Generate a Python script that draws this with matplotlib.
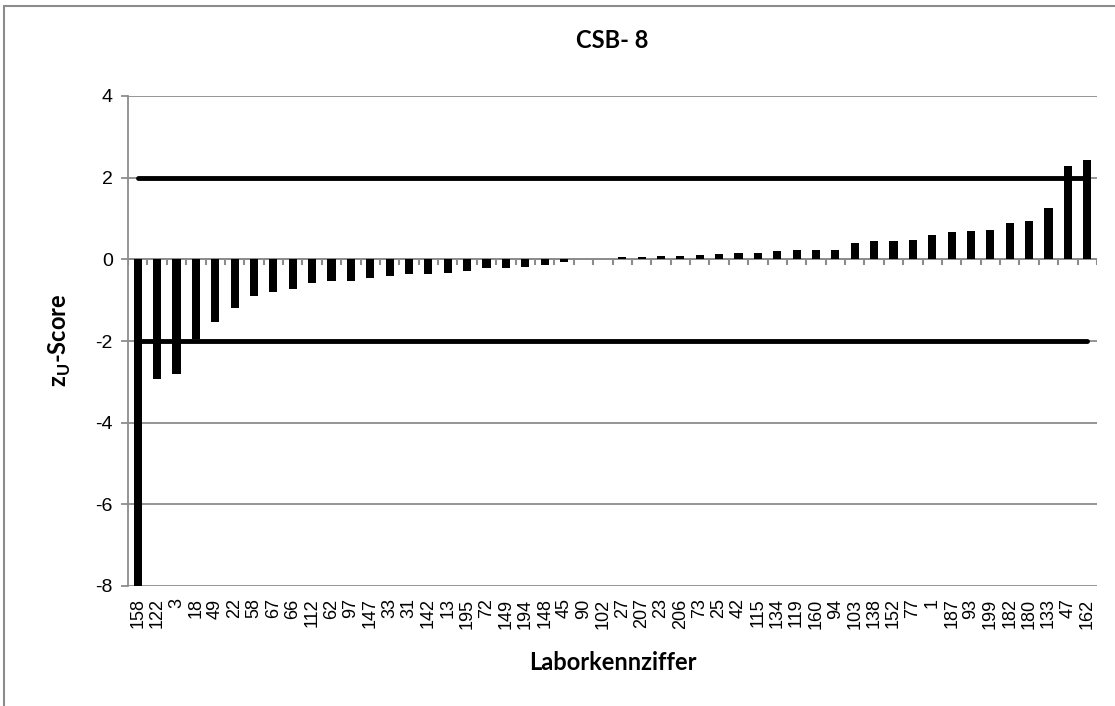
import numpy as np
import matplotlib
matplotlib.use("Agg")
import matplotlib.pyplot as plt
from matplotlib.patches import Rectangle

# Laboratory codes (sorted by z_U score) and their scores
labs = ['158', '122', '3', '18', '49', '22', '58', '67', '66', '112',
        '62', '97', '147', '33', '31', '142', '13', '195', '72', '149',
        '194', '148', '45', '90', '102', '27', '207', '23', '206', '73',
        '25', '42', '115', '134', '119', '160', '94', '103', '138', '152',
        '77', '1', '187', '93', '199', '182', '180', '133', '47', '162']
scores = [-8.0, -2.92, -2.81, -1.95, -1.54, -1.20, -0.89, -0.80, -0.73, -0.59,
          -0.54, -0.54, -0.45, -0.42, -0.36, -0.36, -0.33, -0.28, -0.22, -0.22,
          -0.18, -0.15, -0.07, 0.01, 0.02, 0.05, 0.05, 0.07, 0.07, 0.11,
          0.13, 0.16, 0.16, 0.21, 0.23, 0.23, 0.24, 0.39, 0.45, 0.45,
          0.48, 0.60, 0.67, 0.69, 0.72, 0.90, 0.95, 1.25, 2.29, 2.44]
limit_upper = 2
limit_lower = -2

grid_col = '#8c8c8c'
plt.rcParams['axes.unicode_minus'] = False
plt.rcParams['mathtext.fontset'] = 'custom'
plt.rcParams['mathtext.rm'] = 'Lato'
plt.rcParams['mathtext.bf'] = 'Lato:bold'

fig = plt.figure(figsize=(11.15, 7.06), dpi=100)
ax = fig.add_axes([128 / 1115, 1 - 586 / 706, (1097 - 128) / 1115, (586 - 96) / 706])

x = np.arange(len(labs))
ax.bar(x, scores, width=0.42, color='black', zorder=3)

# limit lines from first to last category
ax.plot([x[0], x[-1]], [limit_upper, limit_upper], color='black', lw=3.5,
        solid_capstyle='round', zorder=4)
ax.plot([x[0], x[-1]], [limit_lower, limit_lower], color='black', lw=3.5,
        solid_capstyle='round', zorder=4)

ymin, ymax = -8, 4
ax.set_ylim(ymin, ymax)
ax.set_xlim(-0.5, len(labs) - 0.5)
ax.set_yticks(np.arange(-8, 5, 2))
ax.yaxis.grid(True, color=grid_col, lw=1.3)
ax.set_axisbelow(True)

ax.set_xticks(x)
ax.set_xticklabels(labs, rotation=90, fontsize=13, family='Liberation Sans')
ax.tick_params(axis='x', length=0, pad=9)
ax.tick_params(axis='y', direction='out', length=5, color=grid_col,
               width=1.3, labelsize=14, pad=6)
for lab in ax.get_yticklabels():
    lab.set_family('Liberation Sans')

for side in ['top', 'right', 'bottom']:
    ax.spines[side].set_visible(False)
ax.spines['left'].set_color(grid_col)
ax.spines['left'].set_linewidth(1.3)

# category axis at zero: small tick marks between categories, pointing down
tick_len = 6 / 41  # about 6 px in data units
bounds = np.arange(-0.5, len(labs), 1)
ax.axhline(0, color=grid_col, lw=1.3, zorder=2)
ax.vlines(bounds, -tick_len, 0, color=grid_col, lw=1.5, zorder=2)

fig.text(0.5 * (128 + 1097) / 1115, 1 - 40 / 706, 'CSB- 8', ha='center', va='center',
         fontsize=17, fontweight='bold', family='Lato')
fig.text(0.5 * (128 + 1097) / 1115, 1 - 663 / 706, 'Laborkennziffer', ha='center',
         va='center', fontsize=17, fontweight='bold', family='Lato')
fig.text(60 / 1115, 1 - 340 / 706, r'z$_{\mathbf{U}}$-Score', ha='center', va='center',
         rotation=90, fontsize=17, fontweight='bold', family='Lato')

# chart area border
fig.patches.append(Rectangle((4 / 1115, -0.05), 1.2, 1 - 6 / 706 + 0.05,
                             transform=fig.transFigure, fill=False,
                             edgecolor=grid_col, lw=1.5))

fig.savefig('out.png', dpi=100)
